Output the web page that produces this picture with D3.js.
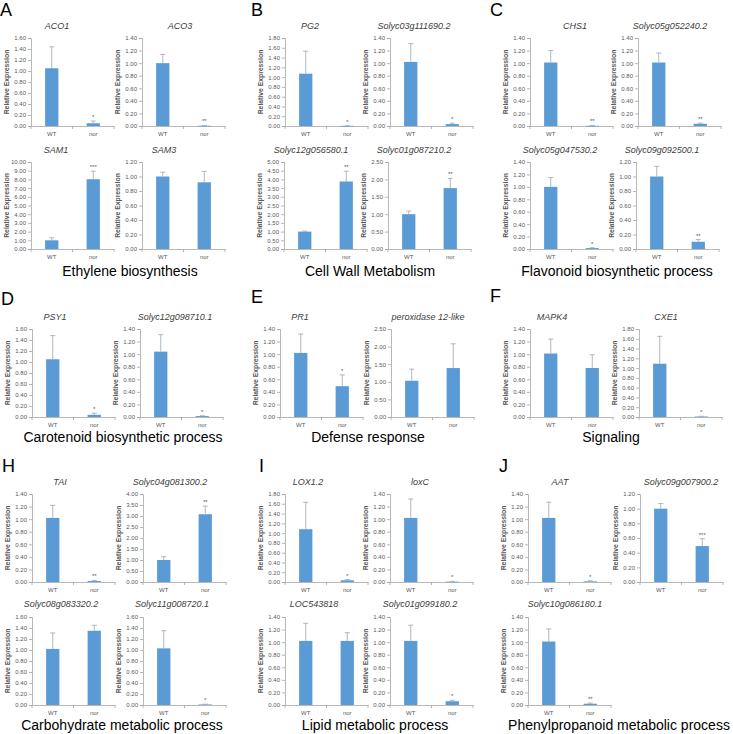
<!DOCTYPE html>
<html><head><meta charset="utf-8">
<script src="https://cdn.jsdelivr.net/npm/d3@7"></script>
<style>
html,body{margin:0;padding:0;background:#fff;}
svg{display:block;font-family:"Liberation Sans",Arial,sans-serif;}
</style></head>
<body>
<svg id="c" width="733" height="734"></svg>
<script>
// ---------- data ----------
const categories = ["WT", "nor"];
const panelLetters = ["A","B","C","D","E","F","H","I","J"];
const groupLabels = ["Ethylene biosynthesis","Cell Wall Metabolism","Flavonoid biosynthetic process",
  "Carotenoid biosynthetic process","Defense response","Signaling",
  "Carbohydrate metabolic process","Lipid metabolic process","Phenylpropanoid metabolic process"];
const genes = ["ACO1","ACO3","SAM1","SAM3",
  "PG2","Solyc03g111690.2","Solyc12g056580.1","Solyc01g087210.2",
  "CHS1","Solyc05g052240.2","Solyc05g047530.2","Solyc09g092500.1",
  "PSY1","Solyc12g098710.1","PR1","peroxidase 12-like","MAPK4","CXE1",
  "TAI","Solyc04g081300.2","Solyc08g083320.2","Solyc11g008720.1",
  "LOX1.2","loxC","LOC543818","Solyc01g099180.2",
  "AAT","Solyc09g007900.2","Solyc10g086180.1"];
const wtMean  = [1.05,1.00,1.00,1.00, 1.07,1.02,1.00,1.00, 1.01,1.01,1.00,1.00, 1.05,1.04,1.02,1.03,1.01,1.09, 1.02,1.00,1.02,1.03, 1.08,1.02,1.02,1.02, 1.02,1.00,1.01];
const wtErr   = [0.39,0.14,0.28,0.06, 0.46,0.29,0.03,0.09, 0.19,0.15,0.15,0.14, 0.43,0.27,0.30,0.33,0.23,0.56, 0.20,0.15,0.29,0.32, 0.55,0.30,0.28,0.25, 0.25,0.07,0.20];
const norMean = [0.05,0.004,8.02,0.92, 0.003,0.03,3.88,1.75, 0.004,0.035,0.015,0.10, 0.04,0.015,0.49,1.39,0.78,0.01, 0.015,3.08,1.35,0.01, 0.035,0.005,1.02,0.06, 0.01,0.49,0.02];
const norErr  = [0.04,0.004,0.93,0.15, 0.003,0.015,0.59,0.28, 0.004,0.01,0.005,0.03, 0.03,0.005,0.18,0.69,0.21,0.005, 0.01,0.37,0.10,0.005, 0.015,0.005,0.13,0.015, 0.01,0.10,0.01];
const stars   = ["*","**","***","", "*","*","**","**", "**","**","*","**", "*","*","*","","","*", "**","**","","*", "*","*","","*", "*","***","**"];
const yMax    = [1.6,1.4,10,1.2, 1.8,1.4,5,2.5, 1.4,1.4,1.4,1.2, 1.6,1.4,1.4,2.5,1.4,1.8, 1.4,4,1.6,1.6, 1.8,1.4,1.4,1.4, 1.4,1.2,1.4];
const yStep   = [0.2,0.2,1,0.2, 0.2,0.2,0.5,0.5, 0.2,0.2,0.2,0.2, 0.2,0.2,0.2,0.5,0.2,0.2, 0.2,0.5,0.2,0.2, 0.2,0.2,0.2,0.2, 0.2,0.2,0.2];

// ---------- layout ----------
const rowTop = [38,162,329,494,617], rowBottom = [126,249,417,582,705], rowTitle = [29,153,320,485,607];
const chartRow = [0,0,1,1, 0,0,1,1, 0,0,1,1, 2,2,2,2,2,2, 3,3,4,4, 3,3,4,4, 3,3,4];
const chartX   = [31,142,31,142, 285,390,284,388, 530,638,530,636, 32,140,280,391,530,639, 32,143,32,143, 285,390,285,390, 528,640,528];
const titleX   = [57,180,56,164, 310,414,311,414, 575,670,560,662, 55,175,300,428,552,666, 60,170,61,172, 308,420,314,420, 560,681,565];
const plotW = 83;
const letterPos = [[0,16],[251,16],[490,16],[1,305],[251,303],[490,302],[2,472],[259,472],[499,472]];
const groupPos = [[130,276],[370,276],[617,276],[123,442],[368,442],[611,442],[122,730],[375,730],[619,730]];

const svg = d3.select("#c");
const FONT = '"Liberation Sans",Arial,sans-serif';
const axisCol = "#a6a6a6", textCol = "#595959", barCol = "#5b9bd5", errCol = "#9aa5b1";

genes.forEach((g, i) => {
  const r = chartRow[i];
  const x0 = chartX[i], top = rowTop[r], bot = rowBottom[r];
  const y = d3.scaleLinear().domain([0, yMax[i]]).range([bot, top]);
  const x = d3.scaleBand().domain(categories).range([x0, x0 + plotW]).paddingInner(0.68).paddingOuter(0.34);
  const xb = d3.scaleBand().domain(categories).range([x0, x0 + plotW]);
  const gC = svg.append("g");
  const nT = Math.round(yMax[i] / yStep[i]);
  const ticks = d3.range(nT + 1).map(k => +(k * yStep[i]).toFixed(2));

  // y axis
  const ya = d3.axisLeft(y).tickValues(ticks).tickFormat(d3.format(".2f")).tickSize(3).tickPadding(2);
  const yg = gC.append("g").attr("transform", `translate(${x0},0)`).call(ya);
  yg.select(".domain").attr("stroke", axisCol).attr("stroke-width", 0.8);
  yg.selectAll(".tick line").attr("stroke", axisCol).attr("stroke-width", 0.8);
  yg.selectAll(".tick text").attr("fill", textCol).style("font-size", "6px").style("font-family", FONT);

  // x axis
  const xa = d3.axisBottom(xb).tickSize(0).tickPadding(6);
  const xg = gC.append("g").attr("transform", `translate(0,${bot})`).call(xa);
  xg.select(".domain").attr("stroke", axisCol).attr("stroke-width", 0.8);
  xg.selectAll(".tick text").attr("fill", textCol).style("font-size", "6px").style("font-family", FONT);
  const bounds = [x0, x0 + xb.bandwidth(), x0 + 2 * xb.bandwidth()];
  xg.selectAll(".bnd").data(bounds).enter().append("line")
    .attr("x1", d => d).attr("x2", d => d).attr("y1", 0).attr("y2", 3)
    .attr("stroke", axisCol).attr("stroke-width", 0.8);

  // bars
  const means = [wtMean[i], norMean[i]], errs = [wtErr[i], norErr[i]];
  const rows = categories.map((c, k) => ({c, m: means[k], e: errs[k], s: k === 1 ? stars[i] : ""}));
  gC.selectAll(".bar").data(rows).enter().append("rect")
    .attr("x", d => x(d.c)).attr("width", x.bandwidth())
    .attr("y", d => y(d.m)).attr("height", d => Math.max(0.6, bot - y(d.m)))
    .attr("fill", barCol);
  // error bars
  const cx = d => x(d.c) + x.bandwidth() / 2;
  gC.selectAll(".err").data(rows).enter().append("line")
    .attr("x1", cx).attr("x2", cx).attr("y1", d => y(d.m)).attr("y2", d => y(d.m + d.e))
    .attr("stroke", errCol).attr("stroke-width", 0.8);
  gC.selectAll(".cap").data(rows).enter().append("line")
    .attr("x1", d => cx(d) - 2.5).attr("x2", d => cx(d) + 2.5).attr("y1", d => y(d.m + d.e)).attr("y2", d => y(d.m + d.e))
    .attr("stroke", errCol).attr("stroke-width", 0.8);
  gC.selectAll(".star").data(rows.filter(d => d.s)).enter().append("text")
    .attr("x", cx).attr("y", d => y(d.m + d.e) - 2).attr("text-anchor", "middle")
    .attr("fill", textCol).style("font-size", "6px").style("font-family", FONT).text(d => d.s);

  // y label
  gC.append("text").attr("transform", `translate(${x0 - 22},${(top + bot) / 2}) rotate(-90)`)
    .attr("text-anchor", "middle").attr("fill", textCol).style("font-size", "6.8px").style("font-weight", "bold")
    .style("font-family", FONT).text("Relative Expression");
  // title
  gC.append("text").attr("x", titleX[i]).attr("y", rowTitle[r]).attr("text-anchor", "middle")
    .attr("fill", "#404040").style("font-size", "9px").style("font-style", "italic").style("font-family", FONT).text(g);
});

// panel letters and group labels
svg.selectAll(".lt").data(panelLetters).enter().append("text")
  .attr("x", (d, k) => letterPos[k][0]).attr("y", (d, k) => letterPos[k][1])
  .style("font-size", "18px").style("font-family", FONT).attr("fill", "#000").text(d => d);
svg.selectAll(".gl").data(groupLabels).enter().append("text")
  .attr("x", (d, k) => groupPos[k][0]).attr("y", (d, k) => groupPos[k][1]).attr("text-anchor", "middle")
  .style("font-size", "14px").style("font-family", FONT).attr("fill", "#000").text(d => d);
</script>
</body></html>
